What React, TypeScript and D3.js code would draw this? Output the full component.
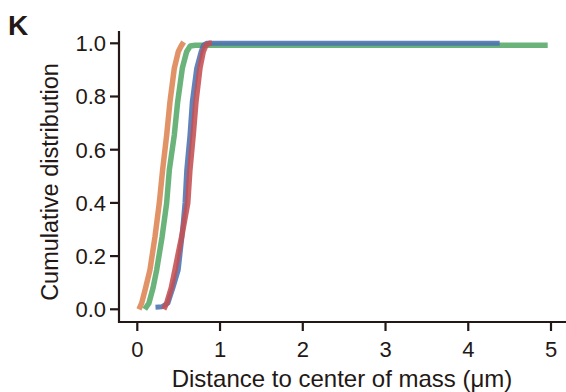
import React from "react";
import * as d3 from "d3";

const xTicks = [0, 1, 2, 3, 4, 5];
const yTicks = [0.0, 0.2, 0.4, 0.6, 0.8, 1.0];

// [distance, cumulative]
const orangeSeries: [number, number][] = [
  [0.02, 0.0], [0.053, 0.023], [0.1, 0.08], [0.153, 0.148], [0.214, 0.273], [0.266, 0.4],
  [0.306, 0.524], [0.355, 0.655], [0.395, 0.78], [0.447, 0.906], [0.495, 0.968], [0.53, 0.99], [0.56, 1.005],
];
const greenSeries: [number, number][] = [
  [0.09, 0.0], [0.14, 0.023], [0.19, 0.08], [0.234, 0.148], [0.3, 0.273], [0.355, 0.4],
  [0.387, 0.524], [0.447, 0.655], [0.488, 0.78], [0.544, 0.906], [0.596, 0.968], [0.64, 0.99], [0.7, 0.993], [4.96, 0.993],
];
const blueSeries: [number, number][] = [
  [0.22, 0.008], [0.3, 0.01], [0.37, 0.023], [0.43, 0.08], [0.495, 0.148], [0.54, 0.273],
  [0.576, 0.4], [0.597, 0.524], [0.636, 0.655], [0.664, 0.78], [0.717, 0.906], [0.77, 0.968], [0.8, 0.993], [0.84, 1.0], [4.38, 1.0],
];
const redSeries: [number, number][] = [
  [0.32, 0.0], [0.355, 0.023], [0.41, 0.08], [0.455, 0.148], [0.536, 0.273], [0.61, 0.4],
  [0.636, 0.524], [0.676, 0.655], [0.709, 0.78], [0.757, 0.906], [0.797, 0.968], [0.83, 0.993], [0.87, 1.0], [0.9, 1.0],
];

const seriesList = [
  { data: orangeSeries, color: "#dd8452", width: 5.5 },
  { data: greenSeries, color: "#55a868", width: 5.5 },
  { data: blueSeries, color: "#4c72b0", width: 5 },
  { data: redSeries, color: "#c44e52", width: 5.5 },
];

const W = 566;
const H = 392;
const FONT = "'Liberation Sans', Arial, sans-serif";

export default function App() {
  const x = d3.scaleLinear().domain([0, 5]).range([137.3, 551]);
  const y = d3.scaleLinear().domain([0, 1]).range([309.3, 43.3]);
  const line = d3
    .line<[number, number]>()
    .x((d) => x(d[0]))
    .y((d) => y(d[1]))
    .curve(d3.curveLinear);

  const axisX = 119;
  const axisY = 322;

  return (
    <svg
      width={W}
      height={H}
      style={{ position: "absolute", left: 0, top: 0, background: "#fff" }}
      fontFamily={FONT}
    >
      <rect width={W} height={H} fill="#fff" />
      <text x={8} y={35} fontSize={28} fontWeight="bold" fill="#231815">
        K
      </text>

      {seriesList.map((s, i) => (
        <path
          key={i}
          d={line(s.data) || ""}
          fill="none"
          stroke={s.color}
          strokeWidth={s.width}
          strokeOpacity={0.88}
          strokeLinejoin="round"
          strokeLinecap="butt"
        />
      ))}

      {/* axes */}
      <line x1={axisX} y1={31} x2={axisX} y2={axisY + 1} stroke="#231815" strokeWidth={2.2} />
      <line x1={axisX - 1} y1={axisY} x2={W} y2={axisY} stroke="#231815" strokeWidth={2.2} />

      {yTicks.map((t) => (
        <g key={"y" + t}>
          <line x1={axisX - 9} x2={axisX} y1={y(t)} y2={y(t)} stroke="#231815" strokeWidth={2.2} />
          <text
            x={axisX - 13}
            y={y(t)}
            dy="0.36em"
            textAnchor="end"
            fontSize={22}
            fill="#231815"
          >
            {d3.format(".1f")(t)}
          </text>
        </g>
      ))}

      {xTicks.map((t) => (
        <g key={"x" + t}>
          <line x1={x(t)} x2={x(t)} y1={axisY} y2={axisY + 9} stroke="#231815" strokeWidth={2.2} />
          <text x={x(t)} y={357} textAnchor="middle" fontSize={22} fill="#231815">
            {t}
          </text>
        </g>
      ))}

      <text x={342} y={387} textAnchor="middle" fontSize={24} fill="#231815">
        Distance to center of mass (μm)
      </text>
      <text
        transform="translate(58,182) rotate(-90)"
        textAnchor="middle"
        fontSize={23.5}
        fill="#231815"
      >
        Cumulative distribution
      </text>
    </svg>
  );
}
